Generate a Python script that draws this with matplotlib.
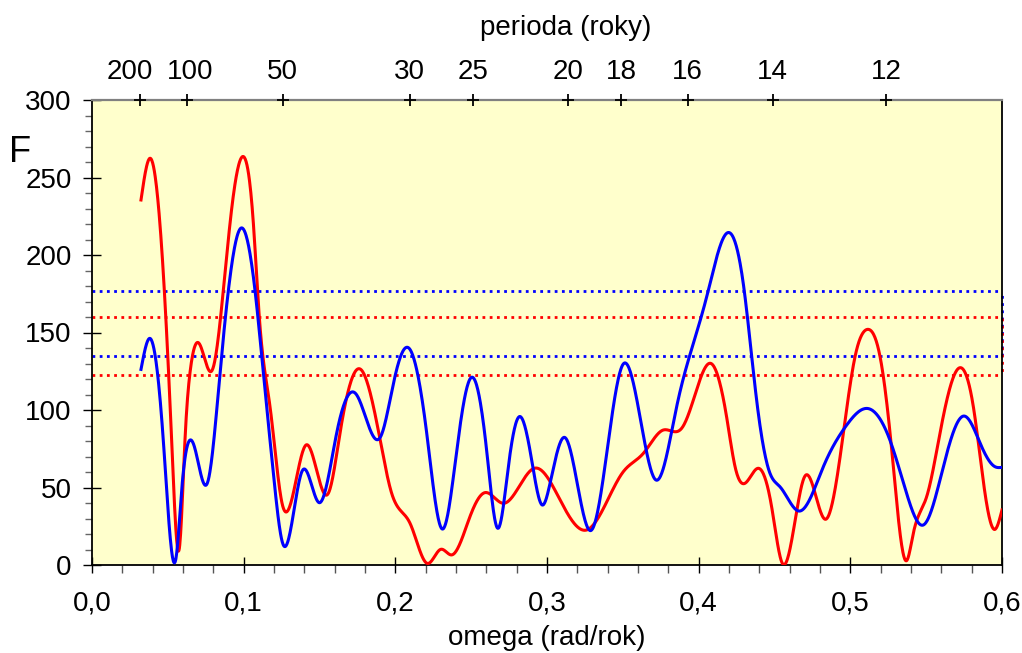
import numpy as np
import matplotlib
matplotlib.use("Agg")
import matplotlib.pyplot as plt
from matplotlib.ticker import MultipleLocator, FuncFormatter
from matplotlib.transforms import ScaledTranslation

plt.rcParams['font.family'] = ['Liberation Sans', 'DejaVu Sans']

# cteni z obrazku: uzly krivek (omega, F)
red_w = [0.0323, 0.0382, 0.0477, 0.0525, 0.0576, 0.0613, 0.0646, 0.0706, 0.0793, 0.0848,
         0.0910, 0.0991, 0.1064, 0.1103, 0.1174, 0.1255, 0.1411, 0.1558, 0.1635, 0.1767,
         0.1900, 0.1976, 0.2031, 0.2097, 0.2211, 0.2299, 0.2371, 0.2492, 0.2591, 0.2712,
         0.2916, 0.3086, 0.3262, 0.3503, 0.3635, 0.3767, 0.3888, 0.3965, 0.4079, 0.4184,
         0.4240, 0.4305, 0.4393, 0.4481, 0.4552, 0.4701, 0.4837, 0.4954, 0.5031, 0.5112,
         0.5196, 0.5273, 0.5371, 0.5415, 0.5503, 0.5591, 0.5723, 0.5811, 0.5888, 0.5954,
         0.6000]
red_F = [235.5, 262.4, 177.0, 80.6, 10.8, 80.6, 124.0, 143.0, 125.8, 160.0,
         220.4, 263.4, 220.4, 160.0, 102.0, 39.0, 77.4, 46.2, 85.0, 126.5,
         80.6, 46.2, 35.5, 26.9, 1.0, 10.1, 6.5, 31.2, 46.7, 39.8,
         62.4, 42.0, 22.6, 60.2, 72.0, 87.1, 88.2, 106.5, 130.1, 95.7,
         63.4, 52.7, 62.4, 37.6, 1.0, 57.4, 29.5, 85.0, 134.4, 152.0,
         134.4, 74.2, 2.8, 20.4, 44.0, 85.0, 127.3, 102.2, 46.2, 23.0,
         35.5]

blue_w = [0.0323, 0.0382, 0.0470, 0.0554, 0.0591, 0.0673, 0.0760, 0.0844, 0.0899, 0.0980,
          0.1075, 0.1130, 0.1196, 0.1261, 0.1387, 0.1499, 0.1613, 0.1741, 0.1903, 0.1987,
          0.2086, 0.2207, 0.2310, 0.2405, 0.2503, 0.2602, 0.2675, 0.2745, 0.2817, 0.2899,
          0.2969, 0.3020, 0.3119, 0.3288, 0.3503, 0.3719, 0.3855, 0.3965, 0.4053, 0.4191,
          0.4294, 0.4382, 0.4470, 0.4536, 0.4662, 0.4822, 0.4976, 0.5112, 0.5261, 0.5371,
          0.5481, 0.5613, 0.5749, 0.5866, 0.5954, 0.6000]
blue_F = [126.2, 146.2, 80.6, 4.5, 48.0, 77.0, 52.7, 123.7, 177.0, 217.2,
          177.0, 123.7, 59.0, 13.0, 60.9, 40.2, 85.0, 110.3, 82.8, 117.0,
          140.2, 85.0, 23.2, 74.0, 121.1, 74.0, 23.7, 63.4, 95.7, 67.7,
          38.7, 52.7, 82.2, 22.2, 129.7, 54.8, 102.2, 143.0, 173.1, 214.4,
          181.7, 106.5, 59.2, 50.5, 34.8, 63.4, 90.3, 101.0, 80.6, 46.2,
          25.8, 63.4, 96.1, 76.3, 63.4, 63.0]

# hladiny vyznamnosti
blue_levels = [176.8, 135.0]
red_levels = [160.2, 122.8]

periods = [200, 100, 50, 30, 25, 20, 18, 16, 14, 12]


def spline(x, y, xn):
    # prirozeny kubicky splajn, jen pro hladke vykresleni uzlu
    x = np.asarray(x, float)
    y = np.asarray(y, float)
    n = len(x)
    h = np.diff(x)
    A = np.zeros((n, n))
    b = np.zeros(n)
    A[0, 0] = 1
    A[-1, -1] = 1
    for k in range(1, n - 1):
        A[k, k - 1] = h[k - 1]
        A[k, k] = 2 * (h[k - 1] + h[k])
        A[k, k + 1] = h[k]
        b[k] = 6 * ((y[k + 1] - y[k]) / h[k] - (y[k] - y[k - 1]) / h[k - 1])
    M = np.linalg.solve(A, b)
    i = np.clip(np.searchsorted(x, xn) - 1, 0, n - 2)
    t1 = x[i + 1] - xn
    t0 = xn - x[i]
    hi = h[i]
    return (M[i] * t1**3 / (6 * hi) + M[i + 1] * t0**3 / (6 * hi)
            + (y[i] / hi - M[i] * hi / 6) * t1 + (y[i + 1] / hi - M[i + 1] * hi / 6) * t0)


fig = plt.figure(figsize=(10.22, 6.53), dpi=100)
ax = fig.add_axes([92 / 1022, 1 - 565 / 653, 910 / 1022, 465 / 653])
ax.set_facecolor('#FFFFCC')

for lv in blue_levels:
    ax.axhline(lv, color='#0000FF', lw=2.0, ls=(0, (1, 1.6)), zorder=2)
for lv in red_levels:
    ax.axhline(lv, color='#FF0000', lw=2.0, ls=(0, (1, 1.6)), zorder=2)
ax.plot([0.6, 0.6], [blue_levels[1], blue_levels[0]], color='#0000FF', lw=2.0,
        ls=(0, (1, 1.6)), clip_on=False, zorder=2)
ax.plot([0.6, 0.6], [red_levels[1], red_levels[0]], color='#FF0000', lw=2.0,
        ls=(1.3, (1, 1.6)), clip_on=False, zorder=2)

xr = np.linspace(red_w[0], red_w[-1], 2000)
xb = np.linspace(blue_w[0], blue_w[-1], 2000)
ax.plot(xr, spline(red_w, red_F, xr), color='#FF0000', lw=2.2, zorder=3,
        solid_joinstyle='round')
ax.plot(xb, spline(blue_w, blue_F, xb), color='#0000FF', lw=2.2, zorder=4,
        solid_joinstyle='round')

ax.set_xlim(0, 0.6)
ax.set_ylim(0, 300)
ax.xaxis.set_major_locator(MultipleLocator(0.1))
ax.xaxis.set_minor_locator(MultipleLocator(0.02))
ax.yaxis.set_major_locator(MultipleLocator(50))
ax.yaxis.set_minor_locator(MultipleLocator(10))
ax.xaxis.set_major_formatter(FuncFormatter(lambda v, p: ('%.1f' % v).replace('.', ',')))

ax.tick_params(axis='x', which='major', direction='inout', length=11.5, width=1.0,
               color='black', labelsize=20, pad=12.5)
ax.tick_params(axis='x', which='minor', direction='out', length=5.5, width=1.0,
               color='#555555')
ax.tick_params(axis='y', which='major', direction='inout', length=12.5, width=1.0,
               color='black', labelsize=20, pad=8.5)
ax.tick_params(axis='y', which='minor', direction='out', length=5, width=1.0,
               color='#666666')

for s in ['left', 'bottom', 'right']:
    ax.spines[s].set_color('black')
    ax.spines[s].set_linewidth(1.3)
ax.spines['top'].set_color('#808080')
ax.spines['top'].set_linewidth(1.6)

# horni osa s periodami
top_w = [2 * np.pi / p for p in periods]
ax2 = ax.twiny()
ax2.set_xlim(0, 0.6)
ax2.set_xticks(top_w)
ax2.set_xticklabels([str(p) for p in periods])
ax2.tick_params(axis='x', length=0, labelsize=20, pad=10.5)
for s in ax2.spines.values():
    s.set_visible(False)
# 200 a 100 jsou blizko, trochu je od sebe odsunout
labs = ax2.get_xticklabels()
labs[0].set_transform(labs[0].get_transform() + ScaledTranslation(-0.10, 0, fig.dpi_scale_trans))
labs[1].set_transform(labs[1].get_transform() + ScaledTranslation(0.03, 0, fig.dpi_scale_trans))
ax.plot(top_w, [300] * len(top_w), ls='none', marker='+', ms=9, mew=1.3,
        color='black', clip_on=False, zorder=6)

fig.text(20 / 1022, 1 - 152 / 653, 'F', fontsize=26, ha='center', va='center')
fig.text(547 / 1022, 1 - 645 / 653, 'omega (rad/rok)', fontsize=20, ha='center',
         va='baseline')
fig.text(566 / 1022, 1 - 35 / 653, 'perioda (roky)', fontsize=20, ha='center',
         va='baseline')

fig.savefig('out.png', dpi=100)
